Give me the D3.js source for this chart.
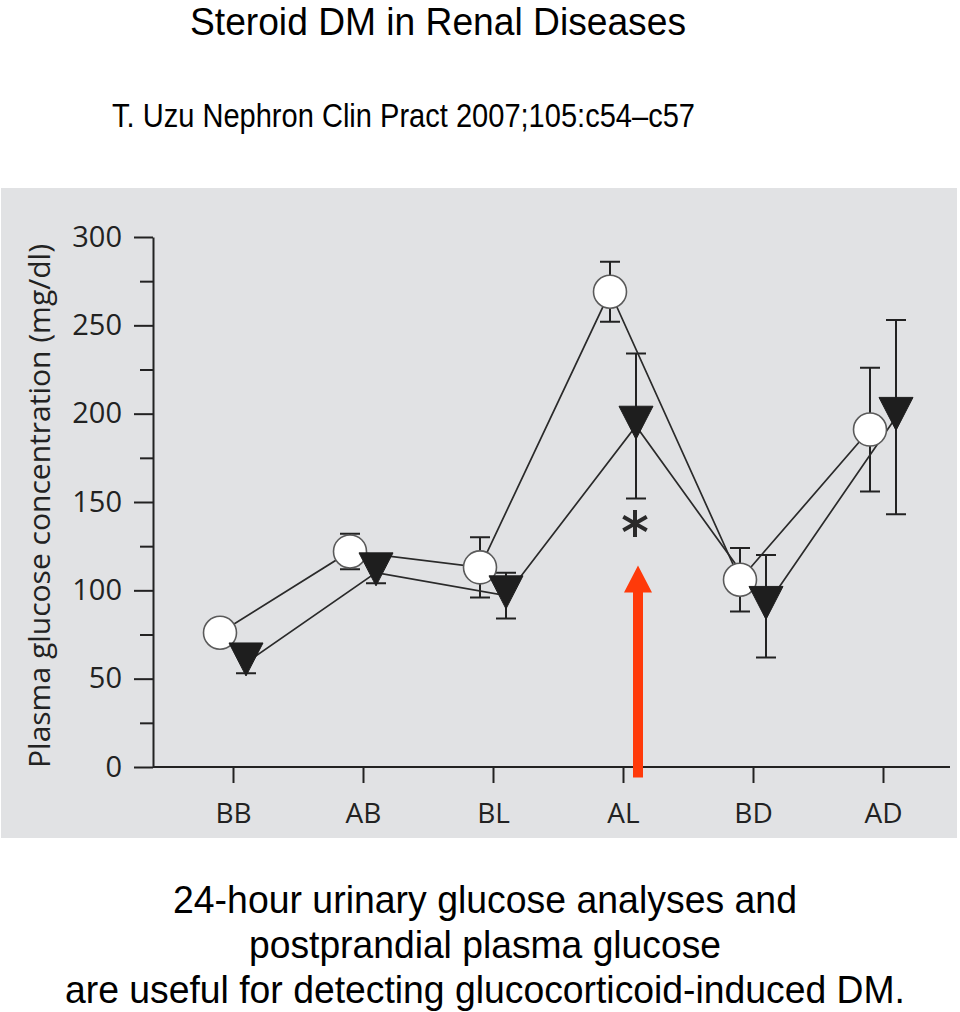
<!DOCTYPE html>
<html>
<head>
<meta charset="utf-8">
<script src="https://cdn.jsdelivr.net/npm/d3@7"></script>
<style>
  html, body { margin: 0; padding: 0; background: #ffffff; }
  svg { display: block; }
</style>
</head>
<body>
<svg id="chart" width="960" height="1012"></svg>
<script>
// ---------------- data ----------------
const categories = ["BB", "AB", "BL", "AL", "BD", "AD"];
const circleMean = [76, 122, 113, 269, 106, 191];   // open circles
const circleErr  = [5, 10, 17, 17, 18, 35];
const triMean    = [59, 110, 97, 193, 91, 198];      // filled down-triangles
const triErr     = [6, 6, 13, 41, 29, 55];
const yTicks     = [0, 50, 100, 150, 200, 250, 300];
const yMinor     = [25, 75, 125, 175, 225, 275];
const starCategory = "AL";
const arrowCategory = "AL";
const arrowFromTo = [-6, 114];   // arrow value range (y units): base below axis, tip
const titleText = "Steroid DM in Renal Diseases";
const subtitleText = "T. Uzu Nephron Clin Pract 2007;105:c54\u2013c57";
const yTitle = "Plasma glucose concentration (mg/dl)";
const bottomLines = [
  "24-hour urinary glucose analyses and",
  "postprandial plasma glucose",
  "are useful for detecting glucocorticoid-induced DM."
];

// ---------------- layout ----------------
const svg = d3.select("#chart");
const panel = { x: 1, y: 188, w: 956, h: 650 };
const axisX0 = 153, axisX1 = 950;
const y = d3.scaleLinear().domain([0, 300]).range([767, 237]);
const x = d3.scalePoint().domain(categories).range([233, 883]);
const off = 13;
const ink = "#222";
const axisFont = "'Open Sans', 'DejaVu Sans', sans-serif";
const textFont = "'Liberation Sans', Arial, sans-serif";

// titles
svg.append("text").attr("x", 438).attr("y", 35).attr("text-anchor", "middle")
  .attr("font-family", textFont).attr("font-size", 38).attr("fill", "#000")
  .attr("textLength", 496).attr("lengthAdjust", "spacingAndGlyphs")
  .text(titleText);
svg.append("text").attr("x", 403.5).attr("y", 127).attr("text-anchor", "middle")
  .attr("font-family", textFont).attr("font-size", 33).attr("fill", "#000")
  .attr("textLength", 583).attr("lengthAdjust", "spacingAndGlyphs")
  .text(subtitleText);

// panel background
svg.append("rect").attr("x", panel.x).attr("y", panel.y)
  .attr("width", panel.w).attr("height", panel.h).attr("fill", "#e1e2e4");

// y axis major
const gy = svg.append("g").attr("transform", `translate(${axisX0},0)`)
  .call(d3.axisLeft(y).tickValues(yTicks).tickSize(19).tickSizeOuter(0).tickPadding(12));
gy.selectAll("text").attr("font-family", axisFont).attr("font-size", 29).attr("fill", ink);
// y axis minor
svg.append("g").attr("transform", `translate(${axisX0},0)`)
  .call(d3.axisLeft(y).tickValues(yMinor).tickSize(13).tickSizeOuter(0).tickFormat(""))
  .select(".domain").remove();
svg.selectAll(".tick line, .domain").attr("stroke", ink).attr("stroke-width", 2);

// x axis
const gx = svg.append("g").attr("transform", `translate(0,${y(0)})`)
  .call(d3.axisBottom(x).tickSize(16).tickSizeOuter(0).tickPadding(20));
gx.select(".domain").attr("d", `M${axisX0},0H${axisX1}`);
gx.selectAll(".tick line, .domain").attr("stroke", ink).attr("stroke-width", 2);
gx.selectAll("text").attr("font-family", axisFont).attr("font-size", 28).attr("fill", ink);
svg.selectAll(".domain").attr("fill", "none");

// y axis title
svg.append("text")
  .attr("transform", `translate(50,${(y(0) + y(300)) / 2 + 4}) rotate(-90)`)
  .attr("text-anchor", "middle")
  .attr("font-family", axisFont).attr("font-size", 29).attr("fill", ink)
  .attr("textLength", 524).attr("lengthAdjust", "spacingAndGlyphs")
  .text(yTitle);

// series data
const circ = categories.map((c, i) => ({ c, m: circleMean[i], e: circleErr[i], x: x(c) - off }));
const tri  = categories.map((c, i) => ({ c, m: triMean[i], e: triErr[i], x: x(c) + off }));

// error bars
const capW = 10;
function errBars(data) {
  const g = svg.append("g").attr("stroke", ink).attr("stroke-width", 2).attr("fill", "none");
  g.selectAll("path").data(data).join("path")
    .attr("d", d => {
      const t = y(d.m + d.e), b = y(d.m - d.e);
      return `M${d.x},${t}V${b}M${d.x - capW},${t}H${d.x + capW}M${d.x - capW},${b}H${d.x + capW}`;
    });
}
errBars(circ);
errBars(tri);

// connecting lines
const line = d3.line().x(d => d.x).y(d => y(d.m));
svg.append("path").datum(circ).attr("d", line).attr("fill", "none")
  .attr("stroke", "#2a2a2a").attr("stroke-width", 1.7);
svg.append("path").datum(tri).attr("d", line).attr("fill", "none")
  .attr("stroke", "#2a2a2a").attr("stroke-width", 1.7);

// circles
svg.append("g").selectAll("circle").data(circ).join("circle")
  .attr("cx", d => d.x).attr("cy", d => y(d.m)).attr("r", 16.5)
  .attr("fill", "#fff").attr("stroke", "#5a5a5a").attr("stroke-width", 1.6);

// down triangles (value point at 60% of height from top)
const tw = 34, th = 33;
svg.append("g").selectAll("path").data(tri).join("path")
  .attr("d", d => {
    const cy = y(d.m), top = cy - 0.6 * th, bot = cy + 0.4 * th;
    return `M${d.x - tw / 2},${top}H${d.x + tw / 2}L${d.x},${bot}Z`;
  })
  .attr("fill", "#1e1e1e").attr("stroke", "#1e1e1e").attr("stroke-width", 1);

// significance asterisk below AL triangle
const iStar = categories.indexOf(starCategory);
svg.append("path")
  .attr("transform", `translate(${x(starCategory) + off - 1},${y(triMean[iStar] - triErr[iStar]) + 25})`)
  .attr("d", d3.symbol().type(d3.symbolAsterisk).size(520)())
  .attr("fill", "none").attr("stroke", "#2a2a2a").attr("stroke-width", 4);

// red arrow
const ax = x(arrowCategory) + off + 2;
const aBase = y(arrowFromTo[0]), aTip = y(arrowFromTo[1]);
const headH = 27, headW = 14, shaftW = 5;
svg.append("path")
  .attr("d", `M${ax - shaftW},${aBase}V${aTip + headH}H${ax - headW}L${ax},${aTip}L${ax + headW},${aTip + headH}H${ax + shaftW}V${aBase}Z`)
  .attr("fill", "#ff3a0a");

// bottom text
const bl = [913, 958, 1003];
const bw = [624, 472, 840];
svg.append("g").selectAll("text").data(bottomLines).join("text")
  .attr("x", 485).attr("y", (d, i) => bl[i]).attr("text-anchor", "middle")
  .attr("font-family", textFont).attr("font-size", 39).attr("fill", "#000")
  .attr("textLength", (d, i) => bw[i]).attr("lengthAdjust", "spacingAndGlyphs")
  .text(d => d);
</script>
</body>
</html>
